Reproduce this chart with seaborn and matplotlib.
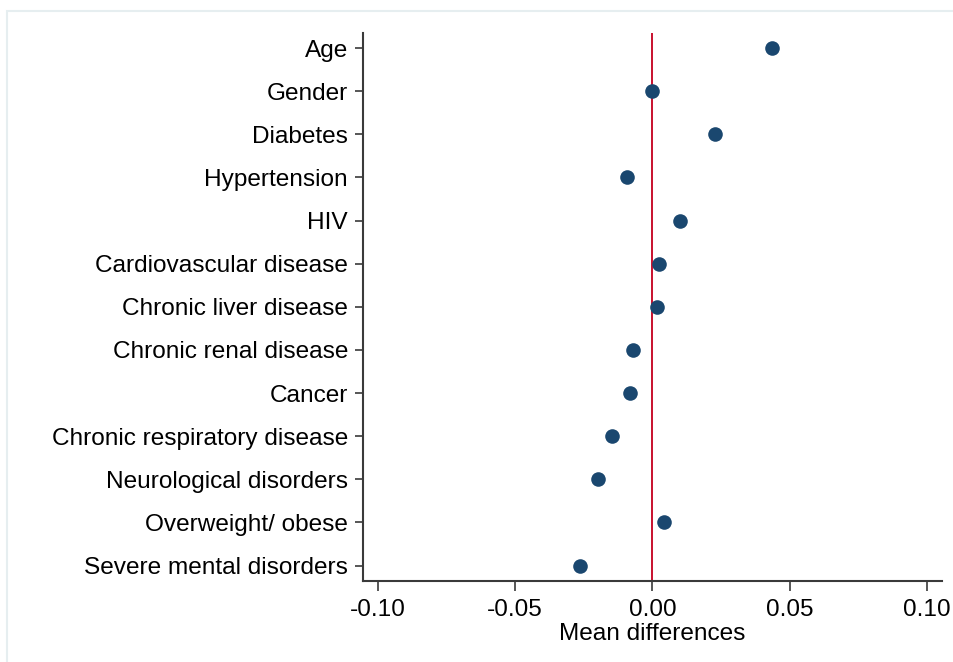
import matplotlib
matplotlib.use("Agg")
import matplotlib.pyplot as plt
import seaborn as sns
import pandas as pd
from matplotlib.patches import Rectangle

categories = ["Age", "Gender", "Diabetes", "Hypertension", "HIV",
              "Cardiovascular disease", "Chronic liver disease",
              "Chronic renal disease", "Cancer", "Chronic respiratory disease",
              "Neurological disorders", "Overweight/ obese",
              "Severe mental disorders"]
mean_diff = [0.0436, 0.0000, 0.0230, -0.0093, 0.0101, 0.0024, 0.0018,
             -0.0071, -0.0082, -0.0148, -0.0200, 0.0043, -0.0264]
xticks = [-0.10, -0.05, 0.00, 0.05, 0.10]
xtick_labels = ["-0.10", "-0.05", "0.00", "0.05", "0.10"]

df = pd.DataFrame({"variable": categories, "diff": mean_diff})

sns.set_theme(style="white")
plt.rcParams["font.family"] = ["Liberation Sans", "DejaVu Sans"]

fig = plt.figure(figsize=(9.54, 6.62), dpi=100)
ax = fig.add_axes([362.7/954, 1-580.7/662, (942.3-362.7)/954, (580.7-33)/662])

ax.yaxis.grid(True, color="#e4ecef", linewidth=1.6, zorder=0)
ax.xaxis.grid(False)
ax.axvline(0, color="#c8102e", linewidth=1.4, zorder=2)

sns.stripplot(data=df, x="diff", y="variable", order=categories, jitter=False,
              color="#1a476f", size=10.5, linewidth=0, ax=ax, zorder=3)

ax.set_xlim(-0.1056, 0.1057)
ax.set_ylim(len(categories) - 1 + 0.35, -0.35)
ax.set_xticks(xticks)
ax.set_xticklabels(xtick_labels)

for s in ["top", "right"]:
    ax.spines[s].set_visible(False)
for s in ["left", "bottom"]:
    ax.spines[s].set_color("#3a3a3a")
    ax.spines[s].set_linewidth(1.5)

fs = 17.6
ax.tick_params(axis="y", length=6, width=1.2, color="#3a3a3a", pad=4.5,
               labelsize=fs, labelcolor="black", left=True)
ax.tick_params(axis="x", length=7.5, width=1.2, color="#3a3a3a", pad=6,
               labelsize=fs, labelcolor="black", bottom=True)
ax.set_ylabel("")
ax.set_xlabel("Mean differences", fontsize=fs, color="black", labelpad=1)

fig.patches.append(Rectangle((7/954, -0.05), 1.2, (662-11)/662 + 0.05,
                             transform=fig.transFigure, fill=False,
                             edgecolor="#e6eef0", linewidth=1.5, zorder=0))

fig.savefig("out.png", dpi=100, facecolor="white")
